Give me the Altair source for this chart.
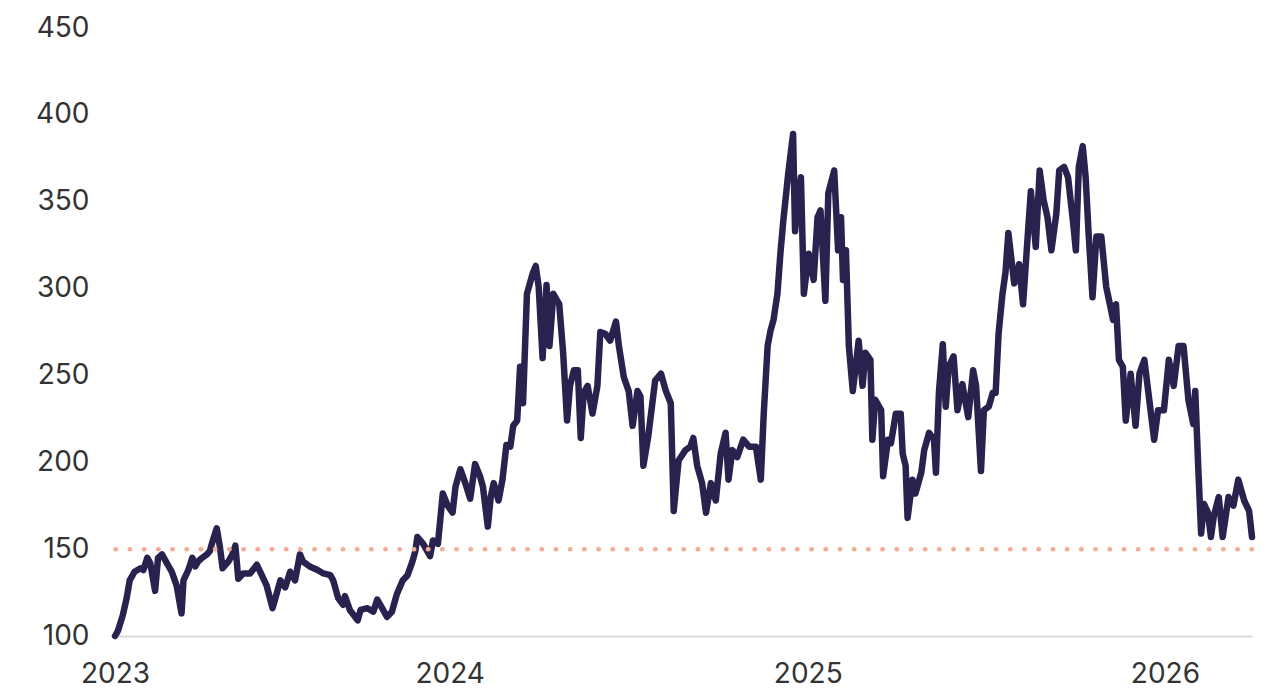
import altair as alt
import pandas as pd

# ---- data ----
start_date = "2023-01-24"
day_offset = [
    0, 3, 8, 12, 15, 20, 26, 29, 33, 36, 41, 44, 48, 53, 58, 63, 68, 70, 75, 79,
    82, 85, 89, 94, 97, 100, 104, 107, 110, 116, 120, 123, 126, 131, 138, 145, 150, 155, 161, 164,
    169, 174, 179, 184, 189, 192, 199, 207, 213, 220, 223, 228, 233, 235, 240, 248, 251, 258, 264, 268,
    273, 278, 283, 288, 294, 299, 304, 307, 309, 315, 322, 325, 330, 335, 340, 345, 348, 353, 358, 363,
    368, 373, 376, 381, 384, 387, 392, 396, 400, 404, 407, 411, 414, 417, 421, 427, 430, 433, 437, 441,
    444, 448, 452, 454, 458, 462, 465, 469, 473, 476, 479, 483, 488, 493, 496, 501, 506, 512, 515, 520,
    525, 529, 534, 537, 540, 545, 552, 558, 563, 568, 571, 576, 583, 588, 591, 595, 600, 604, 609, 614,
    619, 624, 627, 631, 636, 642, 648, 655, 660, 663, 667, 670, 673, 677, 680, 683, 688, 693, 695, 698,
    701, 704, 709, 714, 718, 721, 726, 729, 735, 739, 742, 744, 747, 750, 754, 757, 760, 764, 767, 772,
    774, 777, 783, 785, 790, 793, 798, 803, 805, 808, 810, 815, 818, 824, 827, 832, 837, 839, 842, 846,
    849, 852, 857, 861, 866, 872, 877, 880, 885, 888, 893, 897, 900, 903, 907, 910, 913, 919, 924, 928,
    933, 936, 941, 945, 949, 953, 957, 962, 965, 970, 974, 979, 982, 985, 989, 992, 995, 999, 1003, 1008,
    1013, 1016, 1020, 1023, 1026, 1030, 1033, 1038, 1043, 1047, 1052, 1057, 1062, 1066, 1072, 1077, 1082, 1087, 1092, 1097,
    1102, 1104, 1107, 1110, 1113, 1117, 1120, 1123, 1128, 1132, 1138, 1143, 1148, 1151, 1154, 1159, 1162,
]
value = [
    100, 103, 112, 122, 132, 137, 139, 138, 145, 142, 126, 145, 147, 142, 137, 129, 113, 132, 138, 145,
    140, 143, 145, 147, 149, 155, 162, 152, 139, 143, 147, 152, 133, 136, 136, 141, 135, 129, 116, 122,
    132, 128, 137, 132, 147, 143, 140, 138, 136, 135, 132, 122, 118, 123, 115, 109, 115, 116, 114, 121,
    116, 111, 114, 124, 132, 135, 143, 149, 157, 153, 146, 155, 153, 182, 175, 171, 186, 196, 188, 179,
    199, 192, 186, 163, 180, 188, 178, 190, 210, 209, 221, 224, 255, 234, 297, 309, 313, 301, 260, 302,
    267, 297, 293, 291, 263, 224, 244, 253, 253, 214, 240, 244, 228, 244, 275, 274, 270, 281, 267, 249,
    241, 221, 241, 238, 198, 215, 247, 251, 241, 234, 172, 201, 207, 209, 214, 198, 188, 171, 188, 178,
    205, 217, 190, 207, 203, 213, 209, 209, 190, 228, 267, 276, 282, 297, 320, 339, 366, 389, 333, 353,
    364, 297, 320, 305, 341, 345, 293, 355, 368, 322, 341, 305, 322, 267, 241, 255, 270, 244, 263, 259,
    213, 236, 230, 192, 213, 211, 228, 228, 205, 198, 168, 190, 182, 194, 207, 217, 213, 194, 240, 268,
    232, 255, 261, 230, 245, 226, 253, 244, 195, 230, 232, 240, 240, 274, 297, 309, 332, 303, 314, 291,
    332, 356, 324, 368, 351, 341, 322, 343, 368, 370, 364, 339, 322, 370, 382, 364, 332, 295, 330, 330,
    301, 293, 282, 291, 259, 255, 224, 251, 221, 251, 259, 236, 213, 230, 230, 259, 244, 267, 267, 236,
    222, 241, 198, 159, 176, 171, 157, 169, 180, 157, 180, 175, 190, 184, 178, 172, 157,
]
year_tick_dates = ["2023-01-24", "2024-01-01", "2025-01-01", "2026-01-01"]
y_ticks = [100, 150, 200, 250, 300, 350, 400, 450]
threshold = [150]

# ---- build tables ----
t0 = pd.Timestamp(start_date)
ms = [int((t0 + pd.Timedelta(days=d)).timestamp() * 1000) for d in day_offset]
df = pd.DataFrame({"t": ms, "v": value})
tick_ms = [int(pd.Timestamp(d).timestamp() * 1000) for d in year_tick_dates]
ref = pd.DataFrame({"v": threshold})

FONT = "Inter"
x_scale = alt.Scale(type="utc", domain=[ms[0], ms[-1]])
y_scale = alt.Scale(domain=[100, 450], nice=False, zero=False)

line = alt.Chart(df).mark_line(
    color="#29224f", strokeWidth=6.5, strokeJoin="round", strokeCap="round"
).encode(
    x=alt.X("t:T", scale=x_scale, title=None,
            axis=alt.Axis(values=tick_ms, format="%Y", labelFlush=False, labelOverlap=False,
                          grid=False, ticks=False, domain=True, domainColor="#dadada",
                          domainWidth=2, labelPadding=24)),
    y=alt.Y("v:Q", scale=y_scale, title=None,
            axis=alt.Axis(values=y_ticks, grid=False, ticks=False, domain=False,
                          labelPadding=26)),
)

rule = alt.Chart(ref).mark_rule(
    color="#f2ae98", strokeWidth=4.5, strokeDash=[0.5, 13.7], strokeCap="round"
).encode(y=alt.Y("v:Q", scale=y_scale))

chart = alt.layer(line, rule).properties(
    width=1137, height=608,
    padding={"left": 27, "top": 6, "right": 5, "bottom": 5},
).configure_view(stroke=None).configure_axis(
    labelFont=FONT, labelFontSize=28, labelColor="#333333", labelFontWeight="normal"
)

chart.save("out.html", embed_options={"renderer": "svg", "actions": False})
